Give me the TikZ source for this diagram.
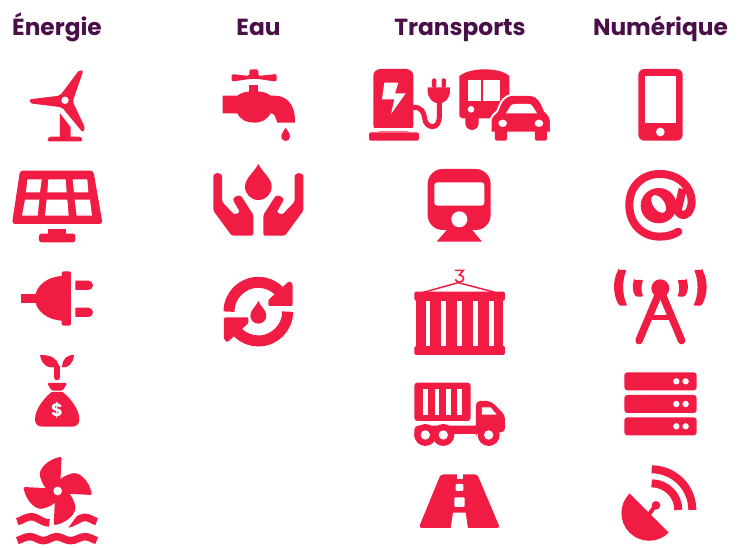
\documentclass[tikz,border=0pt]{standalone}
\usepackage{fontspec}
\setmainfont{Poppins}
\definecolor{iconred}{HTML}{F01C44}
\definecolor{headpurple}{HTML}{4A0F48}
\tikzset{
  head/.style={font=\fontsize{23.3}{26}\selectfont\bfseries,text=headpurple,anchor=base,inner sep=0pt},
  ic/.style={fill=iconred,draw=none},
  wh/.style={fill=white,draw=none},
  ln/.style={draw=iconred,fill=none},
  icon/.style={shift={#1},x=0.3333pt,y=-0.3333pt},
}
\begin{document}
\begin{tikzpicture}[x=1pt,y=-1pt]
\useasboundingbox (0,0) rectangle (740,548);
\fill[white] (0,0) rectangle (740,548);
\node[head] (hE) at (57,36) {Énergie};
\node[head] (hW) at (258.5,36) {Eau};
\node[head] (hT) at (460,36) {Transports};
\node[head] (hN) at (660.5,36) {Numérique};

% wind turbine
\begin{scope}[icon={(0,0)}]
\fill[ic,rounded corners=2pt] (180,287)--(238,210)--(250,212)--(218,305)--(256,385)--(248,397)--(186,322)--(90,310)--(88,298)--cycle;
\fill[wh] (195,301) circle (11);
\fill[ic] (180,340)--(212,382)--(212,412)--(180,412)--cycle;
\fill[ic,rounded corners=2.5pt] (141,424)--(146,410)--(244,410)--(249,424)--cycle;
\end{scope}
% solar panel
\begin{scope}[icon={(0,0)}]
\fill[ic,rounded corners=3pt] (60,512)--(280,512)--(308,672)--(36,672)--cycle;
\fill[wh] (82,538)--(125,538)--(120,577)--(78,577)--cycle;
\fill[wh] (145,538)--(197,538)--(200,577)--(142,577)--cycle;
\fill[wh] (218,538)--(262,538)--(265,577)--(222,577)--cycle;
\fill[wh] (75,599)--(118,599)--(113,647)--(66,647)--cycle;
\fill[wh] (140,599)--(202,599)--(206,647)--(135,647)--cycle;
\fill[wh] (224,599)--(270,599)--(276,647)--(230,647)--cycle;
\fill[ic] (144,686) rectangle (198,705);
\fill[ic,rounded corners=2.5pt] (117,701) rectangle (226,727);
\end{scope}
% plug
\begin{scope}[icon={(0,260)}]
\fill[ic] (63,102) rectangle (110,130);
\fill[ic] (190,48) arc[start angle=-90,end angle=-270,x radius=85,y radius=67] --cycle;
\fill[ic,rounded corners=2pt] (185,34) rectangle (213,197);
\fill[ic] (226,62) -- (265,62) arc[start angle=-90,end angle=90,radius=14] -- (226,90) --cycle;
\fill[ic] (226,143) -- (265,143) arc[start angle=-90,end angle=90,radius=14] -- (226,171) --cycle;
\end{scope}
% money bag
\begin{scope}[icon={(0,260)}]
\fill[ic] (120,285) .. controls (155,285) and (172,295) .. (176,318) .. controls (145,330) and (125,315) .. cycle;
\fill[ic] (222,285) .. controls (200,285) and (188,295) .. (186,322) .. controls (205,325) and (220,310) .. cycle;
\draw[ln,line width=6pt,line cap=round] (172,322)--(172,352);
\fill[ic,rounded corners=1.5pt] (141,369)--(202,369)--(188,392)--(155,392)--cycle;
\fill[ic] (155,396)--(188,396) .. controls (206,410) and (238,445) .. (238,478) .. controls (238,494) and (228,500) .. (215,500) -- (128,500) .. controls (115,500) and (105,494) .. (105,478) .. controls (105,445) and (137,410) .. cycle;
\node[text=white,font=\fontsize{18}{18}\selectfont\bfseries,inner sep=0pt] (dollar) at (171,452) {\$};
\end{scope}
% tidal turbine
\begin{scope}[icon={(0,260)}]
\draw[ln,line width=7.5pt] (52,785) .. controls (65,782) and (78,770) .. (95,770) .. controls (110,770) and (125,788) .. (148,789);
\draw[ln,line width=7.5pt] (200,792) .. controls (225,790) and (238,772) .. (255,772) .. controls (268,772) and (278,782) .. (290,785);
\fill[wh] (190,812)--(206,801)--(240,755)--(190,755)--cycle;
\draw[ln,line width=7.5pt] (52,842) .. controls (65,838) and (75,830) .. (90,830) .. controls (105,830) and (115,842) .. (130,842) .. controls (145,842) and (155,830) .. (170,830) .. controls (185,830) and (195,842) .. (212,842) .. controls (228,842) and (240,830) .. (255,830) .. controls (268,830) and (278,838) .. (290,842);
\foreach \a in {0,90,180,270}{
\begin{scope}[shift={(173,693)},rotate=\a]
\fill[ic,rounded corners=1.5pt] (12,-103) .. controls (-30,-95) and (-60,-65) .. (-51,-38) .. controls (-45,-20) and (-35,-5) .. (-23,3) -- (5,5) -- (8,-25) --cycle;
\end{scope}}
\fill[wh] (173,693) circle (13);
\end{scope}

% faucet
\begin{scope}[icon={(200,80)}]
\fill[ic,rounded corners=1.5pt] (95,-18)--(148,-12)--(148,-32)--(175,-32)--(175,-12)--(230,-18)--(230,5)--(175,-3)--(148,-3)--(95,5)--cycle;
\fill[ic] (148,15) rectangle (175,40);
\fill[ic] (112,47) .. controls (125,38) and (135,34) .. (162,34) .. controls (190,34) and (200,38) .. (212,47) -- (225,47) .. controls (260,47) and (285,75) .. (285,120) -- (285,128) -- (232,128) .. controls (225,110) and (225,100) .. (212,100) .. controls (200,120) and (185,128) .. (162,128) .. controls (140,128) and (122,120) .. (112,100) -- (68,100) -- (68,47) -- cycle;
\fill[ic] (257,143) .. controls (262,152) and (270,160) .. (270,170) arc[start angle=0,end angle=180,radius=13] .. controls (244,160) and (252,152) .. (257,143) --cycle;
\end{scope}
% hands and drop
\begin{scope}[icon={(200,80)}]
\fill[ic] (175,252) .. controls (190,280) and (215,295) .. (215,320) arc[start angle=0,end angle=180,radius=40] .. controls (135,295) and (160,280) .. cycle;
\foreach \s in {1,-1}{
\begin{scope}[xshift=175/3*1pt,xscale=\s]
\fill[ic,rounded corners=1.5pt] (-135,292) arc[start angle=180,end angle=360,radius=13] -- (-109,365) -- (-72,404) -- (-55,397) -- (-75,362) arc[start angle=180,end angle=320,radius=15] -- (-15,405) -- (-15,467) -- (-80,467) -- (-135,392) -- cycle;
\end{scope}}
\end{scope}
% recycle
\begin{scope}[icon={(200,80)}]
\foreach \a in {0,180}{
\begin{scope}[shift={(175,695)},rotate=\a]
\draw[ln,line width=11pt] (-88,0) arc[start angle=180,end angle=315,radius=88];
\fill[ic,rounded corners=1.2pt] (93,-92)--(103,-83)--(103,-17)--(30,-17)--(30,-35)--cycle;
\end{scope}}
\fill[ic] (175,663) .. controls (182,680) and (199,690) .. (199,707) arc[start angle=0,end angle=180,radius=24] .. controls (151,690) and (168,680) .. cycle;
\end{scope}

% EV charger, bus, car
\begin{scope}[icon={(360,60)}]
\fill[ic,rounded corners=7pt] (40,215) -- (40,27) -- (160,27) -- (160,215) -- cycle;
\fill[wh] (160,204) rectangle (40,212);
\fill[ic,rounded corners=1.5pt] (27,217) rectangle (177,242);
\fill[wh] (73,68)--(115,68)--(105,100)--(137,100)--(93,162)--(103,118)--(66,118)--cycle;
\draw[ln,line width=5pt] (158,142) .. controls (185,140) and (192,158) .. (194,175) .. controls (196,205) and (240,215) .. (238,165) -- (238,125);
\fill[ic] (203,82)--(270,82)--(270,92) .. controls (270,115) and (255,130) .. (237,130) .. controls (218,130) and (203,115) .. (203,92) --cycle;
\fill[ic,rounded corners=1.5pt] (216,55) rectangle (229,84);
\fill[ic,rounded corners=1.5pt] (245,55) rectangle (258,84);
% bus
\fill[ic] (298,48) .. controls (320,32) and (350,28) .. (373,28) .. controls (400,28) and (430,32) .. (448,48) -- (448,120) -- (430,175) -- (356,175) -- (356,190) arc[start angle=0,end angle=180,radius=20] -- (316,175) -- (308,175) .. controls (300,175) and (298,170) .. (298,160) -- cycle;
\fill[wh] (325,60)--(362,60)--(362,122)--(325,122)--cycle;
\fill[wh] (368,60)--(420,60)--(420,122)--(368,122)--cycle;
\fill[wh] (333,148) circle (10);
% car
\path[draw=white,fill=white,line width=4pt] (395,215)--(395,185) .. controls (395,170) and (405,165) .. (415,155) .. controls (425,125) and (435,108) .. (460,108) -- (510,108) .. controls (530,108) and (540,125) .. (552,155) .. controls (565,165) and (570,175) .. (570,190) -- (570,215) --cycle;
\fill[ic] (395,215)--(395,185) .. controls (395,170) and (405,165) .. (415,155) .. controls (425,125) and (435,108) .. (460,108) -- (510,108) .. controls (530,108) and (540,125) .. (552,155) .. controls (565,165) and (570,175) .. (570,190) -- (570,215) --cycle;
\fill[ic,rounded corners=2pt] (405,205) rectangle (441,242);
\fill[ic,rounded corners=2pt] (525,205) rectangle (561,242);
\fill[wh] (438,160) -- (450,140) .. controls (453,134) and (458,132) .. (465,132) -- (505,132) .. controls (512,132) and (516,134) .. (519,140) -- (531,160) --cycle;
\fill[wh] (428,190) ellipse (13 and 11);
\fill[wh] (537,190) ellipse (13 and 11);
\end{scope}
% train
\begin{scope}[icon={(360,60)}]
\fill[ic,rounded corners=15pt] (203,510) rectangle (392,327);
\fill[ic] (262,508)--(335,508)--(366,545)--(230,545)--cycle;
\fill[wh,rounded corners=3pt] (223,367) rectangle (373,437);
\fill[wh] (298,478) circle (24);
\end{scope}
% container
\begin{scope}[icon={(400,260)}]
\draw[ln,line width=1.5pt] (70,97)--(175,68)--(285,97);
\draw[ln,line width=1.6pt] (165,31)--(190,31)--(178,45) .. controls (195,46) and (195,66) .. (178,66) .. controls (172,66) and (168,63) .. (166,58);
\fill[ic,rounded corners=1.5pt] (43,95) rectangle (315,122);
\fill[ic,rounded corners=1.5pt] (43,258) rectangle (315,285);
\fill[ic] (48,118) rectangle (310,262);
\foreach \x in {77,124,171,219,267}{\fill[wh] (\x,122) rectangle +(14,135);}
\end{scope}
% truck
\begin{scope}[icon={(400,260)}]
\fill[ic,rounded corners=3pt] (43,368) rectangle (212,483);
\foreach \x in {70,104,138,172}{\fill[wh] (\x,388) rectangle +(14,76);}
\fill[ic,rounded corners=4pt] (228,540) -- (228,423) -- (272,423) -- (315,465) -- (315,517) -- (228,517)--cycle;
\fill[ic,rounded corners=4pt] (43,530) -- (43,497) -- (240,497) -- (240,522) -- (43,522) --cycle;
\foreach \x in {76,130,266}{\fill[ic] (\x,525) circle (33);\fill[wh] (\x,525) circle (14);}
\fill[wh] (246,442)--(272,442)--(290,464)--(246,464)--cycle;
\end{scope}
% road
\begin{scope}[icon={(400,260)}]
\fill[ic,rounded corners=3pt] (122,643)--(232,643)--(300,804)--(56,804)--cycle;
\fill[wh] (170,640) rectangle (188,656);
\fill[wh,rounded corners=1pt] (167,672) rectangle (190,693);
\fill[wh,rounded corners=1pt] (163,712) rectangle (194,741);
\fill[wh] (159,758)--(197,758)--(204,806)--(152,806)--cycle;
\end{scope}

% phone
\begin{scope}[icon={(610,60)}]
\fill[ic,rounded corners=6pt] (85,27) rectangle (218,242);
\fill[wh] (104,47) rectangle (199,188);
\fill[wh] (151,216) circle (13);
\end{scope}
% at sign
\begin{scope}[icon={(610,60)}]
\draw[ln,line width=8pt,line cap=round,line join=round] (205,515) .. controls (190,525) and (170,530) .. (150,530) .. controls (95,530) and (58,490) .. (58,435) .. controls (58,380) and (95,342) .. (150,342) .. controls (205,342) and (245,380) .. (245,425) .. controls (245,452) and (228,472) .. (213,464) .. controls (205,460) and (202,455) .. (204,445);
\fill[ic] (146,437) ellipse (54 and 53);
\draw[ln,line width=8pt] (218,387)--(202,455);
\fill[wh,rotate around={35:(146,432)}] (146,432) ellipse (17 and 30);
\end{scope}
% antenna
\begin{scope}[icon={(610,60)}]
\foreach \s in {1,-1}{
\begin{scope}[xshift=151/3*1pt,xscale=\s]
\fill[ic,rounded corners=1.2pt] (-126,630)--(-101,630) .. controls (-115,660) and (-115,705) .. (-99,737) -- (-123,737) .. controls (-143,705) and (-143,660) .. (-126,630) -- cycle;
\fill[ic,rounded corners=1.2pt] (-79,660)--(-51,660) .. controls (-58,675) and (-58,695) .. (-51,710) -- (-73,710) .. controls (-84,695) and (-84,675) .. cycle;
\end{scope}}
\draw[ln,line width=7.5pt,line cap=round] (151,690)--(87,842);
\draw[ln,line width=7.5pt,line cap=round] (151,690)--(215,842);
\draw[ln,line width=4.5pt] (125,772)--(177,772);
\fill[ic] (151,685) circle (27);
\end{scope}
% server
\begin{scope}[icon={(610,360)}]
\foreach \y in {37,105,172}{
\fill[ic,rounded corners=3pt] (43,\y) rectangle +(217,54);
\fill[wh] (199,\y+27) circle (9.5);
\fill[wh] (227,\y+27) circle (9.5);
}
\end{scope}
% dish
\begin{scope}[icon={(610,360)}]
\fill[ic] (176,518) arc[start angle=45,end angle=225,radius=83] -- cycle;
\draw[ln,line width=4pt] (118,462)--(136,437);
\fill[ic] (138,436) circle (13);
\draw[ln,line width=8pt] (125,370) arc[start angle=270,end angle=360,radius=80];
\draw[ln,line width=8pt] (125,328) arc[start angle=270,end angle=360,radius=122];
\end{scope}
\end{tikzpicture}
\end{document}
